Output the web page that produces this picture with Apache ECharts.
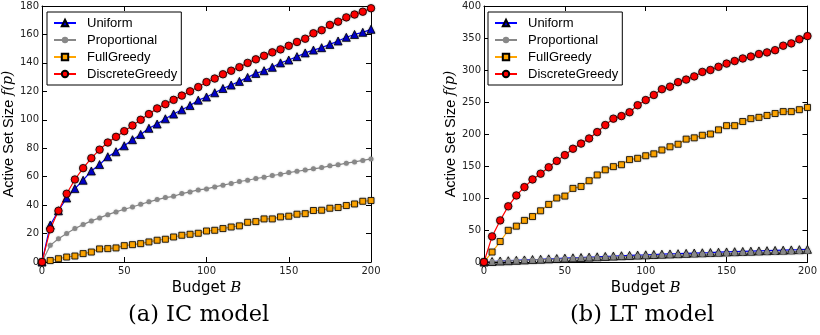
<!DOCTYPE html>
<html>
<head>
<meta charset="utf-8">
<script src="https://cdn.jsdelivr.net/npm/echarts@6/dist/echarts.min.js"></script>
<style>
  html, body { margin: 0; padding: 0; background: #fff; }
  #chart { width: 820px; height: 335px; }
</style>
</head>
<body>
<div id="chart"></div>
<script>
// budgets 0..200 step 5
var budgets = [0, 5, 10, 15, 20, 25, 30, 35, 40, 45, 50, 55, 60, 65, 70, 75, 80, 85, 90, 95, 100,
    105, 110, 115, 120, 125, 130, 135, 140, 145, 150, 155, 160, 165, 170, 175, 180, 185, 190, 195, 200];

// (a) IC model
var icUniform = [0, 26, 36, 45, 51.6, 57.5, 64, 68.5, 74, 77.5, 81.7, 86, 89.7, 94, 97, 100.7, 104, 107, 110, 113.8, 116,
    119, 122, 124.4, 127, 129.8, 132.6, 134.5, 136.9, 140, 142, 144.4, 147, 149, 150.7, 153, 155.4, 158, 160, 161.5, 163.6];
var icProportional = [0, 11.7, 16.4, 20, 23.5, 26.3, 28.9, 31, 33.3, 35.2, 37.1, 38.7, 40.6, 42.3, 43.9, 45.3, 46.2, 48.1, 49.3, 50.7, 51.4,
    52.8, 54, 55.2, 56.6, 57.5, 58.7, 59.6, 60.8, 61.7, 62.9, 63.8, 64.6, 65.5, 66.4, 67.6, 68.3, 69.5, 70.4, 71.4, 72.5];
var icFullGreedy = [0, 1, 2.3, 3.5, 4.2, 5.9, 7, 9.2, 9.4, 9.9, 11.5, 12.2, 12.9, 14.1, 15.3, 16, 17.6, 18.8, 19.5, 20.2, 21.8,
    22.3, 23.5, 24.6, 25.4, 27.9, 28.4, 30.3, 30.3, 31.7, 32.2, 33.6, 34, 36.2, 36.4, 37.8, 38.3, 39.7, 40.8, 42.7, 43.2];
var icDiscreteGreedy = [0, 23, 36, 48, 58, 66, 73, 79, 84, 88, 92, 96, 100, 104, 108, 111, 114, 117, 120, 123, 126.5,
    129, 132, 134.5, 137, 140, 142.5, 145, 147.4, 149.5, 152, 154.7, 157, 160.8, 163, 166.7, 169, 172, 174, 176, 178.4];

// (b) LT model
var ltUniform = [0, 0.8, 1.5, 2, 2.6, 3.2, 3.8, 4.3, 4.9, 5.4, 6, 6.5, 7, 7.6, 8.1, 8.7, 9.2, 9.8, 10.3, 10.8, 11.2,
    11.7, 12.2, 12.6, 13, 13.5, 14, 14.4, 14.8, 15.3, 15.7, 16.1, 16.5, 16.9, 17.3, 17.7, 18.1, 18.5, 18.9, 19.3, 19.8];
var ltProportional = [0, 0.6, 1.2, 1.7, 2.2, 2.7, 3.2, 3.7, 4.2, 4.6, 5.1, 5.5, 6, 6.4, 6.8, 7.3, 7.7, 8.1, 8.5, 8.9, 9.3,
    9.7, 10.1, 10.5, 10.9, 11.3, 11.7, 12.1, 12.4, 12.8, 13.2, 13.6, 14, 14.3, 14.7, 15.1, 15.4, 15.8, 16.2, 16.5, 16.9];
var ltFullGreedy = [0, 15.6, 32, 49.5, 56, 65, 71, 80, 90, 100, 103, 115, 118, 127, 136, 144, 149, 152, 160, 162, 166,
    169, 175, 180, 184, 192, 194, 198, 200, 206.5, 213, 213, 219.5, 224, 226, 229, 232, 235, 235, 238, 241.5];
var ltDiscreteGreedy = [0, 40, 65, 87, 104, 117, 129, 138, 148, 158, 167, 177, 185, 193, 203, 214, 224, 228, 234, 245, 253,
    261, 270, 274, 281, 285, 290, 297, 300, 305, 310, 314, 318, 321, 325, 327.5, 331, 338, 341.6, 348, 353];

var xTicks = [0, 50, 100, 150, 200];
var icYTicks = [0, 20, 40, 60, 80, 100, 120, 140, 160, 180];
var ltYTicks = [0, 50, 100, 150, 200, 250, 300, 350, 400];

var seriesNames = ['Uniform', 'Proportional', 'FullGreedy', 'DiscreteGreedy'];
var captions = ['(a) IC model', '(b) LT model'];

function pairs(ys) {
    return budgets.map(function (b, i) { return [b, ys[i]]; });
}

var sans = 'DejaVu Sans';
var narrow = 'Liberation Sans';
var chart = echarts.init(document.getElementById('chart'));

var grids = [
    { left: 42, top: 6, width: 329, height: 256 },
    { left: 484, top: 6, width: 327, height: 256 }
];

var xAxes = [], yAxes = [];
[0, 1].forEach(function (g) {
    var yTicks = g === 0 ? icYTicks : ltYTicks;
    xAxes.push({
        type: 'value', gridIndex: g, min: 0, max: 200, interval: xTicks[1] - xTicks[0], position: 'bottom',
        axisLine: { show: true, onZero: false, lineStyle: { color: '#000', width: 1 } },
        axisTick: { show: true, inside: true, length: 5, lineStyle: { color: '#000' } },
        axisLabel: { color: '#222', fontFamily: sans, fontSize: 10, margin: 4 },
        splitLine: { show: false },
        name: '{a|Budget }{b|B}', nameLocation: 'middle', nameGap: 9,
        nameTextStyle: {
            rich: {
                a: { fontFamily: sans, fontSize: 15, color: '#000' },
                b: { fontFamily: 'DejaVu Serif', fontStyle: 'italic', fontSize: 15, color: '#000' }
            }
        }
    });
    xAxes.push({
        type: 'value', gridIndex: g, min: 0, max: 200, interval: xTicks[1] - xTicks[0], position: 'top',
        axisLine: { show: true, onZero: false, lineStyle: { color: '#000', width: 1 } },
        axisTick: { show: true, inside: true, length: 5, lineStyle: { color: '#000' } },
        axisLabel: { show: false }, splitLine: { show: false }
    });
    yAxes.push({
        type: 'value', gridIndex: g, min: 0, max: yTicks[yTicks.length - 1], interval: yTicks[1] - yTicks[0],
        position: 'left',
        axisLine: { show: true, onZero: false, lineStyle: { color: '#000', width: 1 } },
        axisTick: { show: true, inside: true, length: 5, lineStyle: { color: '#000' } },
        axisLabel: { color: '#222', fontFamily: sans, fontSize: 10, margin: 3 },
        splitLine: { show: false },
        name: '{a|Active Set Size }{b|f(p)}', nameLocation: 'middle', nameGap: 18,
        nameTextStyle: {
            rich: {
                a: { fontFamily: narrow, fontSize: 14.5, color: '#000' },
                b: { fontFamily: 'DejaVu Serif', fontStyle: 'italic', fontSize: 14, color: '#000' }
            }
        }
    });
    yAxes.push({
        type: 'value', gridIndex: g, min: 0, max: yTicks[yTicks.length - 1], interval: yTicks[1] - yTicks[0],
        position: 'right',
        axisLine: { show: true, onZero: false, lineStyle: { color: '#000', width: 1 } },
        axisTick: { show: true, inside: true, length: 5, lineStyle: { color: '#000' } },
        axisLabel: { show: false }, splitLine: { show: false }
    });
});

var styles = {
    Uniform: { symbol: 'triangle', size: 8, fill: '#0000cc', line: '#0000ff' },
    Proportional: { symbol: 'circle', size: 5, fill: '#888888', line: '#888888' },
    FullGreedy: { symbol: 'rect', size: 6, fill: '#ffa500', line: '#ffa500' },
    DiscreteGreedy: { symbol: 'circle', size: 7.5, fill: '#ff0000', line: '#ff0000' }
};

function makeSeries(name, ys, g, fillOverride) {
    var s = styles[name];
    return {
        name: name, type: 'line', xAxisIndex: g * 2, yAxisIndex: g * 2,
        data: pairs(ys), symbol: s.symbol, symbolSize: s.size, showSymbol: true,
        lineStyle: { color: s.line, width: 1.2 },
        itemStyle: {
            color: fillOverride || s.fill,
            borderColor: name === 'Proportional' ? s.fill : '#000',
            borderWidth: name === 'Proportional' ? 0 : 0.8,
            shadowColor: 'rgba(0,0,0,0.25)', shadowBlur: 2
        },
        animation: false, z: 2
    };
}

var series = [
    makeSeries('Uniform', icUniform, 0),
    makeSeries('Proportional', icProportional, 0),
    makeSeries('FullGreedy', icFullGreedy, 0),
    makeSeries('DiscreteGreedy', icDiscreteGreedy, 0),
    makeSeries('Uniform', ltUniform, 1, '#8a8a8a'),
    makeSeries('Proportional', ltProportional, 1),
    makeSeries('FullGreedy', ltFullGreedy, 1),
    makeSeries('DiscreteGreedy', ltDiscreteGreedy, 1)
];

function makeLegend(left) {
    return {
        orient: 'vertical', left: left, top: 12,
        itemWidth: 22, itemHeight: 8, itemGap: 3,
        padding: [4, 4, 4, 6],
        borderColor: '#000', borderWidth: 1, backgroundColor: '#fff',
        textStyle: { fontFamily: narrow, fontSize: 13, color: '#000', padding: [0, 0, 0, 6], lineHeight: 14 },
        selectedMode: false,
        data: seriesNames.map(function (n) {
            return { name: n, itemStyle: { color: styles[n].fill } };
        })
    };
}

var option = {
    backgroundColor: '#fff',
    animation: false,
    grid: grids,
    xAxis: xAxes,
    yAxis: yAxes,
    legend: [makeLegend(47), makeLegend(488)],
    series: series,
    graphic: [
        { type: 'text', left: 128, top: 304, style: { text: captions[0], fontFamily: 'DejaVu Serif', fontSize: 22.5, fill: '#000' } },
        { type: 'text', left: 570, top: 304, style: { text: captions[1], fontFamily: 'DejaVu Serif', fontSize: 22.5, fill: '#000' } }
    ]
};

chart.setOption(option);
</script>
</body>
</html>
